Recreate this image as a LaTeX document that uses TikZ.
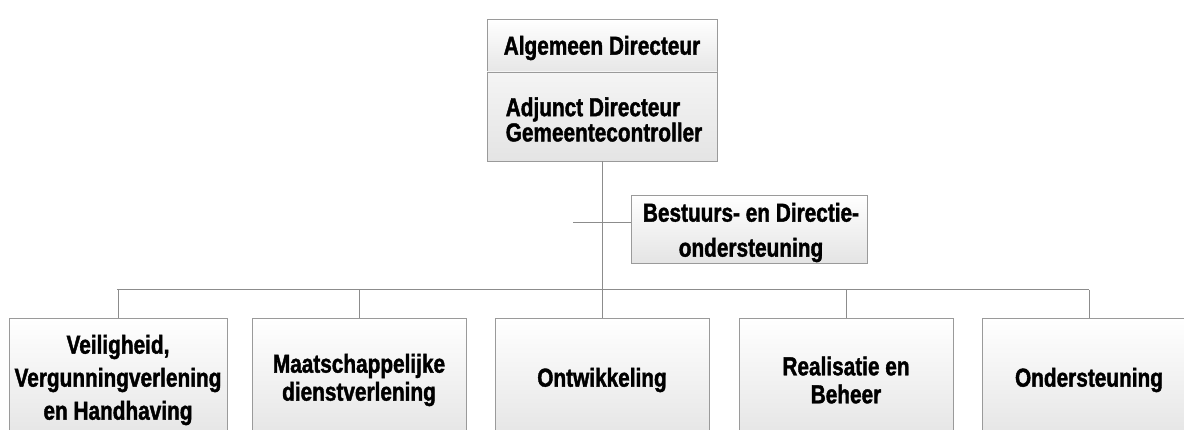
\documentclass[tikz,border=0pt]{standalone}
\usepackage{fontspec}
\newfontfamily\cond[FakeStretch=0.8, FakeBold=1.5]{Liberation Sans}
\definecolor{boxline}{HTML}{9A9A9A}
\definecolor{boxfill}{HTML}{E4E4E4}
\definecolor{connline}{HTML}{8C8C8C}
\begin{document}
\begin{tikzpicture}[x=1pt,y=-1pt]
\tikzset{
  box/.style={draw=boxline, line width=0.9pt, top color=white, bottom color=boxfill,
    inner sep=0pt, align=center, text=black},
  big/.style={font=\cond\bfseries\fontsize{26}{33}\selectfont},
  conn/.style={draw=connline, line width=1pt},
}
\clip (0,0) rectangle (1184,430);
\fill[white] (0,0) rectangle (1184,430);
% connectors
\coordinate (busL) at (117,290);
\coordinate (busR) at (1089,290);
\coordinate (trunk) at (602,290);
\coordinate (stubL) at (573,223);
% top boxes
\node[box, big, minimum width=230pt, minimum height=58pt, yshift=-5pt] (ad) at (602,43) {Algemeen Directeur};
\node[box, minimum width=230pt, minimum height=89pt, top color=white!60!boxfill] (adj) at (602,116.5) {};
\node[align=left, font=\cond\bfseries\fontsize{26}{22}\selectfont, yshift=-3pt] (adjt) at (604,116.5) {Adjunct Directeur\\Gemeentecontroller};
\node[box, minimum width=236pt, minimum height=68pt] (ass) at (749,229) {};
\node[align=center, font=\cond\bfseries\fontsize{26}{35}\selectfont, yshift=-3.5pt] (asst) at (751,229) {Bestuurs- en Directie-\\ondersteuning};
% bottom boxes
\node[box, big, minimum width=218pt, minimum height=124pt] (b1) at (118,380) {Veiligheid,\\Vergunningverlening\\en Handhaving};
\node[box, big, minimum width=214pt, minimum height=124pt, font=\cond\bfseries\fontsize{26}{28}\selectfont] (b2) at (359,380) {Maatschappelijke\\dienstverlening};
\node[box, big, minimum width=214pt, minimum height=124pt] (b3) at (602,380) {Ontwikkeling};
\node[box, big, minimum width=214pt, minimum height=124pt, font=\cond\bfseries\fontsize{26}{28}\selectfont] (b4) at (846,380) {Realisatie en\\Beheer};
\node[box, big, minimum width=214pt, minimum height=124pt] (b5) at (1089,380) {Ondersteuning};
\draw[conn] (adj.south) -- (trunk);
\draw[conn] (stubL) -- (stubL -| ass.west);
\draw[conn] (busL) -- (busR);
\foreach \b in {b1,b2,b3,b4,b5}{
  \draw[conn] (\b.north) -- (\b.north |- busL);
}
\end{tikzpicture}
\end{document}
